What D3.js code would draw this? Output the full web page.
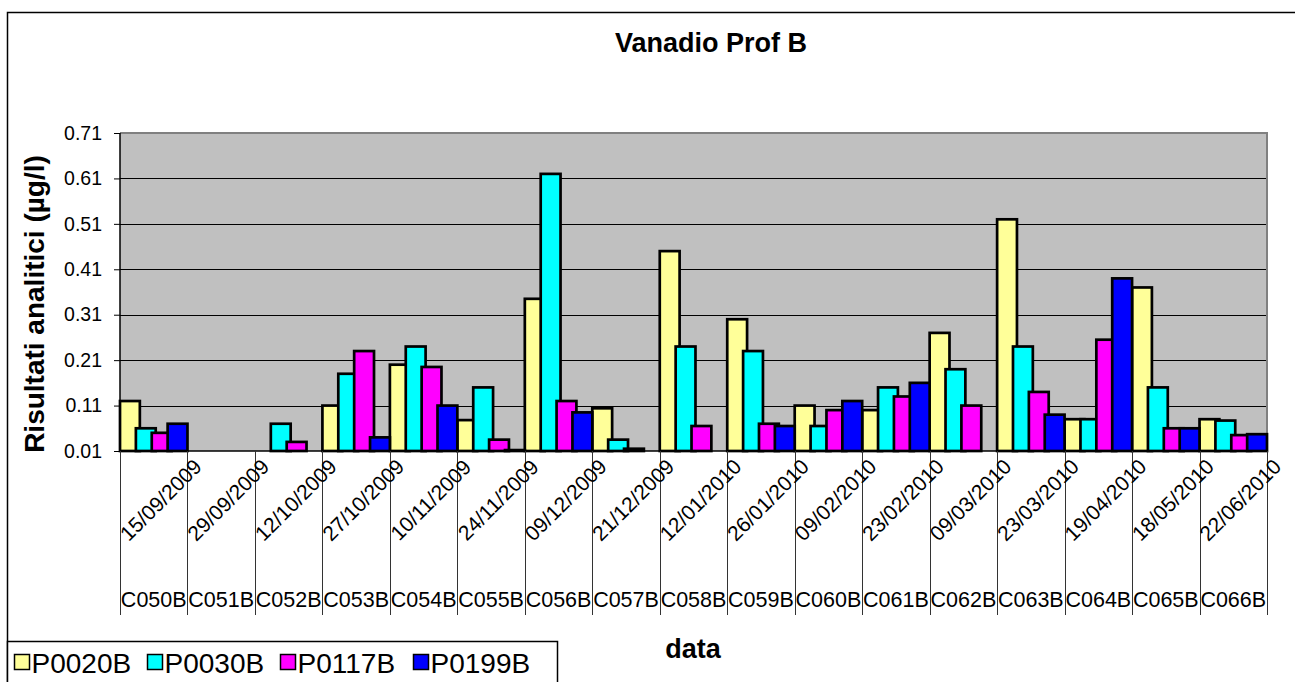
<!DOCTYPE html>
<html>
<head>
<meta charset="utf-8">
<script src="https://cdn.jsdelivr.net/npm/d3@7"></script>
<style>
  body { margin: 0; background: #fff; }
  svg { display: block; font-family: Arial, "Liberation Sans", sans-serif; }
  .y.axis path { display: none; }
  .y.axis line { stroke: #000; }
  .y.axis text { font-size: 19.5px; fill: #000; }
</style>
</head>
<body>
<svg id="chart"></svg>
<script>
// sampling dates and campaign codes (two-level category axis)
var dates = ["15/09/2009","29/09/2009","12/10/2009","27/10/2009","10/11/2009","24/11/2009",
             "09/12/2009","21/12/2009","12/01/2010","26/01/2010","09/02/2010","23/02/2010",
             "09/03/2010","23/03/2010","19/04/2010","18/05/2010","22/06/2010"];
var codes = ["C050B","C051B","C052B","C053B","C054B","C055B","C056B","C057B","C058B",
             "C059B","C060B","C061B","C062B","C063B","C064B","C065B","C066B"];

var seriesNames = ["P0020B", "P0030B", "P0117B", "P0199B"];
var seriesColors = ["#FFFF99", "#00FFFF", "#FF00FF", "#0000FF"];

// values in µg/l, null = no sample
var p0020 = [0.12, null, null, 0.11, 0.20, 0.078, 0.345, 0.104, 0.45, 0.30, 0.11, 0.10, 0.27, 0.52, 0.08, 0.37, 0.08];
var p0030 = [0.06, null, 0.07, 0.18, 0.24, 0.15, 0.62, 0.035, 0.24, 0.23, 0.065, 0.15, 0.19, 0.24, 0.08, 0.15, 0.077];
var p0117 = [0.05, null, 0.03, 0.23, 0.195, 0.035, 0.12, 0.015, 0.065, 0.07, 0.10, 0.13, 0.11, 0.14, 0.255, 0.06, 0.045];
var p0199 = [0.07, null, null, 0.04, 0.11, 0.012, 0.095, null, null, 0.065, 0.12, 0.16, null, 0.09, 0.39, 0.06, 0.047];

var yTicks = [0.01, 0.11, 0.21, 0.31, 0.41, 0.51, 0.61, 0.71];

var W = 1295, H = 682;
var plot = {left: 120, top: 133, right: 1267, bottom: 451};

var svg = d3.select("#chart").attr("width", W).attr("height", H);

// outer chart frame (runs off the right / bottom edge)
svg.append("rect")
    .attr("x", 7.5).attr("y", 12.5)
    .attr("width", 1400).attr("height", 800)
    .style("fill", "#fff").style("stroke", "#000").style("stroke-width", 1.5);

var x = d3.scaleBand().domain(d3.range(dates.length))
    .range([plot.left, plot.right]).padding(0);
var y = d3.scaleLinear().domain([0.01, 0.71]).range([plot.bottom, plot.top]);

// plot area background
svg.append("rect")
    .attr("x", plot.left).attr("y", plot.top)
    .attr("width", plot.right - plot.left).attr("height", plot.bottom - plot.top)
    .style("fill", "#C0C0C0");

// gridlines
svg.selectAll(".grid")
    .data(yTicks.slice(1, -1))
  .enter().append("line")
    .attr("class", "grid")
    .attr("x1", plot.left).attr("x2", plot.right)
    .attr("y1", function(d) { return Math.round(y(d)) + 0.5; })
    .attr("y2", function(d) { return Math.round(y(d)) + 0.5; })
    .style("stroke", "#000").style("stroke-width", 1);

// plot border: grey on top and right
svg.append("path")
    .attr("d", "M" + plot.left + "," + plot.top + "H" + plot.right + "V" + plot.bottom)
    .style("fill", "none").style("stroke", "#808080").style("stroke-width", 2);

// bars: 4 series, overlap 20%, gap 0 -> later series drawn on top
var bw = x.bandwidth() / 3.4,
    step = bw * 0.8;
var series = [p0020, p0030, p0117, p0199];

series.forEach(function(vals, si) {
  svg.append("g").selectAll("rect")
      .data(vals.map(function(v, i) { return {i: i, v: v}; })
               .filter(function(d) { return d.v != null; }))
    .enter().append("rect")
      .attr("x", function(d) { return x(d.i) + si * step; })
      .attr("y", function(d) { return y(d.v); })
      .attr("width", bw)
      .attr("height", function(d) { return y(0.01) - y(d.v); })
      .style("fill", seriesColors[si])
      .style("stroke", "#000")
      .style("stroke-width", 2.7);
});

// y axis
svg.append("g")
    .attr("class", "y axis")
    .attr("transform", "translate(" + plot.left + ",0)")
    .call(d3.axisLeft(y).tickValues(yTicks).tickFormat(d3.format(".2f"))
      .tickSize(6).tickPadding(12));
svg.append("line")
    .attr("x1", plot.left).attr("x2", plot.left)
    .attr("y1", plot.top).attr("y2", plot.bottom)
    .style("stroke", "#000").style("stroke-width", 1.5);

// x axis line and long category separators
svg.append("line")
    .attr("x1", plot.left).attr("x2", plot.right)
    .attr("y1", plot.bottom).attr("y2", plot.bottom)
    .style("stroke", "#000").style("stroke-width", 1.5);

var bounds = d3.range(dates.length + 1).map(function(i) {
  return i < dates.length ? x(i) : x(i - 1) + x.bandwidth();
});
svg.selectAll(".sep")
    .data(bounds)
  .enter().append("line")
    .attr("class", "sep")
    .attr("x1", function(d) { return Math.round(d) + 0.5; })
    .attr("x2", function(d) { return Math.round(d) + 0.5; })
    .attr("y1", plot.bottom).attr("y2", 615)
    .style("stroke", "#333").style("stroke-width", 1);

// date labels, rotated
svg.selectAll(".date")
    .data(dates)
  .enter().append("text")
    .attr("class", "date")
    .attr("text-anchor", "middle")
    .attr("dy", "0.35em")
    .attr("transform", function(d, i) {
      return "translate(" + (x(i) + x.bandwidth() / 2 + 7) + ",500) rotate(-45)";
    })
    .style("font-size", "21px")
    .text(String);

// campaign code labels
svg.selectAll(".code")
    .data(codes)
  .enter().append("text")
    .attr("class", "code")
    .attr("text-anchor", "middle")
    .attr("x", function(d, i) { return x(i) + x.bandwidth() / 2; })
    .attr("y", 607)
    .style("font-size", "21.5px")
    .text(String);

// titles
svg.append("text")
    .attr("x", 711).attr("y", 52)
    .attr("text-anchor", "middle")
    .style("font-size", "27px").style("font-weight", "bold")
    .text("Vanadio Prof B");

svg.append("text")
    .attr("x", 693).attr("y", 658)
    .attr("text-anchor", "middle")
    .style("font-size", "27px").style("font-weight", "bold")
    .text("data");

svg.append("text")
    .attr("transform", "translate(44,304) rotate(-90)")
    .attr("text-anchor", "middle")
    .style("font-size", "28px").style("font-weight", "bold")
    .text("Risultati analitici (µg/l)");

// legend
var legend = svg.append("g").attr("transform", "translate(7.5,641.5)");
legend.append("rect")
    .attr("width", 550).attr("height", 60)
    .style("fill", "#fff").style("stroke", "#000").style("stroke-width", 1.5);

var item = legend.selectAll(".legend")
    .data(seriesNames)
  .enter().append("g")
    .attr("class", "legend")
    .attr("transform", function(d, i) { return "translate(" + (7 + i * 133) + ",0)"; });

item.append("rect")
    .attr("x", 0).attr("y", 13)
    .attr("width", 15).attr("height", 15)
    .style("fill", function(d, i) { return seriesColors[i]; })
    .style("stroke", "#000").style("stroke-width", 1.5);

item.append("text")
    .attr("x", 17).attr("y", 31)
    .style("font-size", "28px")
    .text(String);
</script>
</body>
</html>
